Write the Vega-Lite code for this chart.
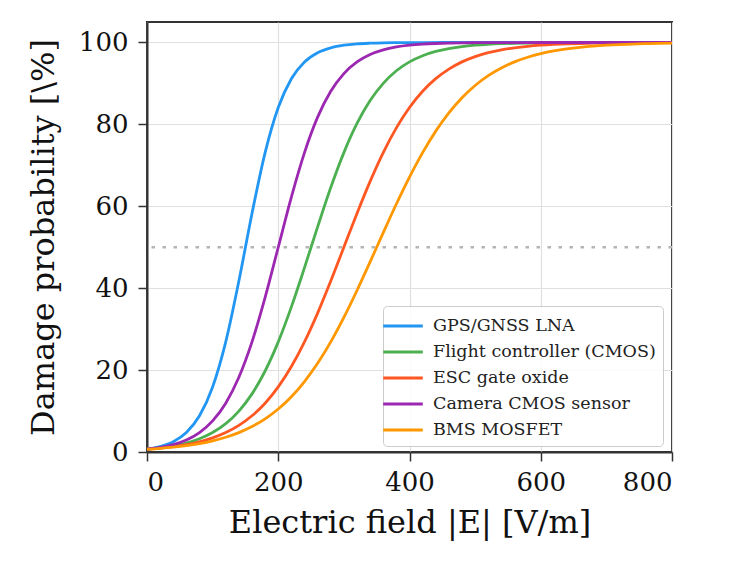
{
  "$schema": "https://vega.github.io/schema/vega-lite/v6.json",
  "width": 525,
  "height": 430,
  "autosize": {"type": "none"},
  "padding": {"left": 147, "top": 22, "right": 60, "bottom": 114},
  "background": "white",
  "config": {
    "font": "DejaVu Serif",
    "view": {"stroke": "#333333", "strokeWidth": 2},
    "axis": {
      "labelFont": "DejaVu Serif",
      "titleFont": "DejaVu Serif",
      "labelFontSize": 26,
      "titleFontSize": 32,
      "titleFontWeight": "normal",
      "labelColor": "#111111",
      "titleColor": "#111111",
      "domainColor": "#333333",
      "domainWidth": 2,
      "tickColor": "#333333",
      "tickWidth": 1.5,
      "tickSize": 9,
      "gridColor": "#e0e0e0",
      "gridWidth": 1.2
    }
  },
  "datasets": {
    "curves": [
      {"E": 0, "P": 0.67, "s": "GPS/GNSS LNA"},
      {"E": 20, "P": 1.30, "s": "GPS/GNSS LNA"},
      {"E": 40, "P": 2.49, "s": "GPS/GNSS LNA"},
      {"E": 60, "P": 4.74, "s": "GPS/GNSS LNA"},
      {"E": 80, "P": 8.84, "s": "GPS/GNSS LNA"},
      {"E": 100, "P": 15.89, "s": "GPS/GNSS LNA"},
      {"E": 120, "P": 26.89, "s": "GPS/GNSS LNA"},
      {"E": 140, "P": 41.74, "s": "GPS/GNSS LNA"},
      {"E": 160, "P": 58.26, "s": "GPS/GNSS LNA"},
      {"E": 180, "P": 73.11, "s": "GPS/GNSS LNA"},
      {"E": 200, "P": 84.11, "s": "GPS/GNSS LNA"},
      {"E": 220, "P": 91.16, "s": "GPS/GNSS LNA"},
      {"E": 240, "P": 95.26, "s": "GPS/GNSS LNA"},
      {"E": 260, "P": 97.51, "s": "GPS/GNSS LNA"},
      {"E": 280, "P": 98.70, "s": "GPS/GNSS LNA"},
      {"E": 300, "P": 99.33, "s": "GPS/GNSS LNA"},
      {"E": 320, "P": 99.66, "s": "GPS/GNSS LNA"},
      {"E": 340, "P": 99.82, "s": "GPS/GNSS LNA"},
      {"E": 360, "P": 99.91, "s": "GPS/GNSS LNA"},
      {"E": 380, "P": 99.95, "s": "GPS/GNSS LNA"},
      {"E": 400, "P": 99.98, "s": "GPS/GNSS LNA"},
      {"E": 450, "P": 99.99, "s": "GPS/GNSS LNA"},
      {"E": 500, "P": 100, "s": "GPS/GNSS LNA"},
      {"E": 600, "P": 100, "s": "GPS/GNSS LNA"},
      {"E": 700, "P": 100, "s": "GPS/GNSS LNA"},
      {"E": 800, "P": 100, "s": "GPS/GNSS LNA"},

      {"E": 0, "P": 0.67, "s": "Flight controller (CMOS)"},
      {"E": 20, "P": 1.00, "s": "Flight controller (CMOS)"},
      {"E": 40, "P": 1.48, "s": "Flight controller (CMOS)"},
      {"E": 60, "P": 2.19, "s": "Flight controller (CMOS)"},
      {"E": 80, "P": 3.23, "s": "Flight controller (CMOS)"},
      {"E": 100, "P": 4.74, "s": "Flight controller (CMOS)"},
      {"E": 120, "P": 6.91, "s": "Flight controller (CMOS)"},
      {"E": 140, "P": 9.98, "s": "Flight controller (CMOS)"},
      {"E": 160, "P": 14.19, "s": "Flight controller (CMOS)"},
      {"E": 180, "P": 19.78, "s": "Flight controller (CMOS)"},
      {"E": 200, "P": 26.89, "s": "Flight controller (CMOS)"},
      {"E": 220, "P": 35.43, "s": "Flight controller (CMOS)"},
      {"E": 240, "P": 45.02, "s": "Flight controller (CMOS)"},
      {"E": 260, "P": 54.98, "s": "Flight controller (CMOS)"},
      {"E": 280, "P": 64.57, "s": "Flight controller (CMOS)"},
      {"E": 300, "P": 73.11, "s": "Flight controller (CMOS)"},
      {"E": 320, "P": 80.22, "s": "Flight controller (CMOS)"},
      {"E": 340, "P": 85.81, "s": "Flight controller (CMOS)"},
      {"E": 360, "P": 90.03, "s": "Flight controller (CMOS)"},
      {"E": 380, "P": 93.09, "s": "Flight controller (CMOS)"},
      {"E": 400, "P": 95.26, "s": "Flight controller (CMOS)"},
      {"E": 420, "P": 96.77, "s": "Flight controller (CMOS)"},
      {"E": 440, "P": 97.81, "s": "Flight controller (CMOS)"},
      {"E": 460, "P": 98.52, "s": "Flight controller (CMOS)"},
      {"E": 480, "P": 99.01, "s": "Flight controller (CMOS)"},
      {"E": 500, "P": 99.33, "s": "Flight controller (CMOS)"},
      {"E": 520, "P": 99.55, "s": "Flight controller (CMOS)"},
      {"E": 540, "P": 99.70, "s": "Flight controller (CMOS)"},
      {"E": 560, "P": 99.80, "s": "Flight controller (CMOS)"},
      {"E": 580, "P": 99.86, "s": "Flight controller (CMOS)"},
      {"E": 600, "P": 99.91, "s": "Flight controller (CMOS)"},
      {"E": 650, "P": 99.97, "s": "Flight controller (CMOS)"},
      {"E": 700, "P": 99.99, "s": "Flight controller (CMOS)"},
      {"E": 750, "P": 100, "s": "Flight controller (CMOS)"},
      {"E": 800, "P": 100, "s": "Flight controller (CMOS)"},

      {"E": 0, "P": 0.67, "s": "ESC gate oxide"},
      {"E": 20, "P": 0.93, "s": "ESC gate oxide"},
      {"E": 40, "P": 1.30, "s": "ESC gate oxide"},
      {"E": 60, "P": 1.80, "s": "ESC gate oxide"},
      {"E": 80, "P": 2.49, "s": "ESC gate oxide"},
      {"E": 100, "P": 3.45, "s": "ESC gate oxide"},
      {"E": 120, "P": 4.74, "s": "ESC gate oxide"},
      {"E": 140, "P": 6.50, "s": "ESC gate oxide"},
      {"E": 160, "P": 8.84, "s": "ESC gate oxide"},
      {"E": 180, "P": 11.92, "s": "ESC gate oxide"},
      {"E": 200, "P": 15.89, "s": "ESC gate oxide"},
      {"E": 220, "P": 20.86, "s": "ESC gate oxide"},
      {"E": 240, "P": 26.89, "s": "ESC gate oxide"},
      {"E": 260, "P": 33.92, "s": "ESC gate oxide"},
      {"E": 280, "P": 41.74, "s": "ESC gate oxide"},
      {"E": 300, "P": 50.00, "s": "ESC gate oxide"},
      {"E": 320, "P": 58.26, "s": "ESC gate oxide"},
      {"E": 340, "P": 66.08, "s": "ESC gate oxide"},
      {"E": 360, "P": 73.11, "s": "ESC gate oxide"},
      {"E": 380, "P": 79.14, "s": "ESC gate oxide"},
      {"E": 400, "P": 84.11, "s": "ESC gate oxide"},
      {"E": 420, "P": 88.08, "s": "ESC gate oxide"},
      {"E": 440, "P": 91.16, "s": "ESC gate oxide"},
      {"E": 460, "P": 93.50, "s": "ESC gate oxide"},
      {"E": 480, "P": 95.26, "s": "ESC gate oxide"},
      {"E": 500, "P": 96.56, "s": "ESC gate oxide"},
      {"E": 520, "P": 97.51, "s": "ESC gate oxide"},
      {"E": 540, "P": 98.20, "s": "ESC gate oxide"},
      {"E": 560, "P": 98.70, "s": "ESC gate oxide"},
      {"E": 580, "P": 99.07, "s": "ESC gate oxide"},
      {"E": 600, "P": 99.33, "s": "ESC gate oxide"},
      {"E": 620, "P": 99.52, "s": "ESC gate oxide"},
      {"E": 640, "P": 99.66, "s": "ESC gate oxide"},
      {"E": 660, "P": 99.75, "s": "ESC gate oxide"},
      {"E": 680, "P": 99.82, "s": "ESC gate oxide"},
      {"E": 700, "P": 99.87, "s": "ESC gate oxide"},
      {"E": 720, "P": 99.91, "s": "ESC gate oxide"},
      {"E": 740, "P": 99.93, "s": "ESC gate oxide"},
      {"E": 760, "P": 99.95, "s": "ESC gate oxide"},
      {"E": 780, "P": 99.97, "s": "ESC gate oxide"},
      {"E": 800, "P": 99.98, "s": "ESC gate oxide"},

      {"E": 0, "P": 0.67, "s": "Camera CMOS sensor"},
      {"E": 20, "P": 1.10, "s": "Camera CMOS sensor"},
      {"E": 40, "P": 1.80, "s": "Camera CMOS sensor"},
      {"E": 60, "P": 2.93, "s": "Camera CMOS sensor"},
      {"E": 80, "P": 4.74, "s": "Camera CMOS sensor"},
      {"E": 100, "P": 7.59, "s": "Camera CMOS sensor"},
      {"E": 120, "P": 11.92, "s": "Camera CMOS sensor"},
      {"E": 140, "P": 18.24, "s": "Camera CMOS sensor"},
      {"E": 160, "P": 26.89, "s": "Camera CMOS sensor"},
      {"E": 180, "P": 37.75, "s": "Camera CMOS sensor"},
      {"E": 200, "P": 50.00, "s": "Camera CMOS sensor"},
      {"E": 220, "P": 62.25, "s": "Camera CMOS sensor"},
      {"E": 240, "P": 73.11, "s": "Camera CMOS sensor"},
      {"E": 260, "P": 81.76, "s": "Camera CMOS sensor"},
      {"E": 280, "P": 88.08, "s": "Camera CMOS sensor"},
      {"E": 300, "P": 92.41, "s": "Camera CMOS sensor"},
      {"E": 320, "P": 95.26, "s": "Camera CMOS sensor"},
      {"E": 340, "P": 97.07, "s": "Camera CMOS sensor"},
      {"E": 360, "P": 98.20, "s": "Camera CMOS sensor"},
      {"E": 380, "P": 98.90, "s": "Camera CMOS sensor"},
      {"E": 400, "P": 99.33, "s": "Camera CMOS sensor"},
      {"E": 420, "P": 99.59, "s": "Camera CMOS sensor"},
      {"E": 440, "P": 99.75, "s": "Camera CMOS sensor"},
      {"E": 460, "P": 99.85, "s": "Camera CMOS sensor"},
      {"E": 480, "P": 99.91, "s": "Camera CMOS sensor"},
      {"E": 500, "P": 99.94, "s": "Camera CMOS sensor"},
      {"E": 550, "P": 99.98, "s": "Camera CMOS sensor"},
      {"E": 600, "P": 99.99, "s": "Camera CMOS sensor"},
      {"E": 700, "P": 100, "s": "Camera CMOS sensor"},
      {"E": 800, "P": 100, "s": "Camera CMOS sensor"},

      {"E": 0, "P": 0.67, "s": "BMS MOSFET"},
      {"E": 20, "P": 0.89, "s": "BMS MOSFET"},
      {"E": 40, "P": 1.18, "s": "BMS MOSFET"},
      {"E": 60, "P": 1.56, "s": "BMS MOSFET"},
      {"E": 80, "P": 2.07, "s": "BMS MOSFET"},
      {"E": 100, "P": 2.74, "s": "BMS MOSFET"},
      {"E": 120, "P": 3.61, "s": "BMS MOSFET"},
      {"E": 140, "P": 4.74, "s": "BMS MOSFET"},
      {"E": 160, "P": 6.22, "s": "BMS MOSFET"},
      {"E": 180, "P": 8.10, "s": "BMS MOSFET"},
      {"E": 200, "P": 10.50, "s": "BMS MOSFET"},
      {"E": 220, "P": 13.50, "s": "BMS MOSFET"},
      {"E": 240, "P": 17.21, "s": "BMS MOSFET"},
      {"E": 260, "P": 21.65, "s": "BMS MOSFET"},
      {"E": 280, "P": 26.89, "s": "BMS MOSFET"},
      {"E": 300, "P": 32.87, "s": "BMS MOSFET"},
      {"E": 320, "P": 39.44, "s": "BMS MOSFET"},
      {"E": 340, "P": 46.43, "s": "BMS MOSFET"},
      {"E": 360, "P": 53.57, "s": "BMS MOSFET"},
      {"E": 380, "P": 60.56, "s": "BMS MOSFET"},
      {"E": 400, "P": 67.13, "s": "BMS MOSFET"},
      {"E": 420, "P": 73.11, "s": "BMS MOSFET"},
      {"E": 440, "P": 78.35, "s": "BMS MOSFET"},
      {"E": 460, "P": 82.79, "s": "BMS MOSFET"},
      {"E": 480, "P": 86.50, "s": "BMS MOSFET"},
      {"E": 500, "P": 89.50, "s": "BMS MOSFET"},
      {"E": 520, "P": 91.90, "s": "BMS MOSFET"},
      {"E": 540, "P": 93.79, "s": "BMS MOSFET"},
      {"E": 560, "P": 95.26, "s": "BMS MOSFET"},
      {"E": 580, "P": 96.39, "s": "BMS MOSFET"},
      {"E": 600, "P": 97.26, "s": "BMS MOSFET"},
      {"E": 620, "P": 97.93, "s": "BMS MOSFET"},
      {"E": 640, "P": 98.44, "s": "BMS MOSFET"},
      {"E": 660, "P": 98.82, "s": "BMS MOSFET"},
      {"E": 680, "P": 99.11, "s": "BMS MOSFET"},
      {"E": 700, "P": 99.33, "s": "BMS MOSFET"},
      {"E": 720, "P": 99.50, "s": "BMS MOSFET"},
      {"E": 740, "P": 99.62, "s": "BMS MOSFET"},
      {"E": 760, "P": 99.71, "s": "BMS MOSFET"},
      {"E": 780, "P": 99.79, "s": "BMS MOSFET"},
      {"E": 800, "P": 99.84, "s": "BMS MOSFET"}
    ],
    "ref": [{"P": 50}]
  },
  "layer": [
    {
      "data": {"name": "ref"},
      "mark": {"type": "rule", "color": "#b5b5b5", "strokeWidth": 2.5, "strokeDash": [3.5, 7.5]},
      "encoding": {"y": {"field": "P", "type": "quantitative"}}
    },
    {
      "data": {"name": "curves"},
      "mark": {"type": "line", "strokeWidth": 2.8, "interpolate": "monotone"},
      "encoding": {
        "x": {
          "field": "E", "type": "quantitative",
          "scale": {"domain": [0, 800], "nice": false},
          "axis": {"values": [0, 200, 400, 600, 800], "title": "Electric field |E| [V/m]", "titlePadding": 12, "labelPadding": 8}
        },
        "y": {
          "field": "P", "type": "quantitative",
          "scale": {"domain": [0, 105], "nice": false},
          "axis": {"values": [0, 20, 40, 60, 80, 100], "title": "Damage probability [\\%]", "titlePadding": 18, "labelPadding": 10}
        },
        "color": {
          "field": "s", "type": "nominal",
          "scale": {
            "domain": ["GPS/GNSS LNA", "Flight controller (CMOS)", "ESC gate oxide", "Camera CMOS sensor", "BMS MOSFET"],
            "range": ["#2196f3", "#4caf50", "#ff5722", "#9c27b0", "#ff9800"]
          },
          "legend": {
            "title": null,
            "orient": "none",
            "legendX": 236,
            "legendY": 284,
            "symbolType": "M-1.8,0H1.8",
            "symbolStrokeWidth": 3.2,
            "symbolSize": 484,
            "labelOffset": 17,
            "labelLimit": 0,
            "labelFont": "DejaVu Serif",
            "labelFontSize": 17.5,
            "labelColor": "#222222",
            "rowPadding": 4,
            "padding": 7,
            "fillColor": "rgba(255,255,255,0.85)",
            "strokeColor": "#cccccc",
            "cornerRadius": 4
          }
        }
      }
    }
  ]
}
